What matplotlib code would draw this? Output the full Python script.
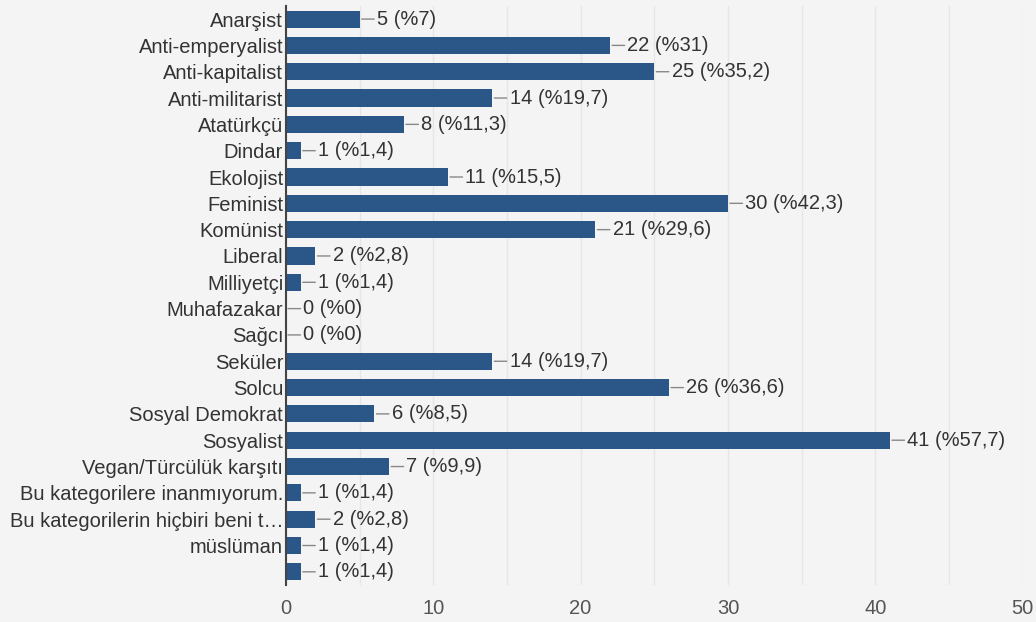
import matplotlib
matplotlib.use("Agg")
import matplotlib.pyplot as plt
from matplotlib.ticker import MultipleLocator

categories = ["Anarşist", "Anti-emperyalist", "Anti-kapitalist", "Anti-militarist",
              "Atatürkçü", "Dindar", "Ekolojist", "Feminist", "Komünist", "Liberal",
              "Milliyetçi", "Muhafazakar", "Sağcı", "Seküler", "Solcu",
              "Sosyal Demokrat", "Sosyalist", "Vegan/Türcülük karşıtı",
              "Bu kategorilere inanmıyorum.", "Bu kategorilerin hiçbiri beni t…",
              "müslüman", ""]
counts = [5, 22, 25, 14, 8, 1, 11, 30, 21, 2, 1, 0, 0, 14, 26, 6, 41, 7, 1, 2, 1, 1]
percents = ["7", "31", "35,2", "19,7", "11,3", "1,4", "15,5", "42,3", "29,6", "2,8",
            "1,4", "0", "0", "19,7", "36,6", "8,5", "57,7", "9,9", "1,4", "2,8", "1,4", "1,4"]
x_ticks = [0, 10, 20, 30, 40, 50]

plt.rcParams['font.family'] = ['Liberation Sans', 'DejaVu Sans']
bg = "#f4f4f4"
bar_color = "#2a5688"
fs = 14.5

fig = plt.figure(figsize=(10.36, 6.22), dpi=100, facecolor=bg)
ax = fig.add_axes([0.276, 0.0595, 0.711, 0.931], facecolor=bg)

y = list(range(len(categories)))
ax.barh(y, counts, height=0.65, color=bar_color, zorder=3)
for yi, c, p in zip(y, counts, percents):
    ax.annotate(f"{c} (%{p})", xy=(c, yi), xytext=(12.5, 0), textcoords="offset points",
                ha="left", va="center", fontsize=fs, color="#333333",
                arrowprops=dict(arrowstyle="-", color="#888888", lw=1, shrinkA=0, shrinkB=1.5),
                zorder=4)

ax.set_ylim(len(categories) - 0.5, -0.5)
ax.set_xlim(0, 50)
ax.set_yticks(y)
ax.set_yticklabels(categories, fontsize=fs, color="#333333")
ax.set_xticks(x_ticks)
ax.set_xticklabels([str(t) for t in x_ticks], fontsize=fs, color="#555555")
ax.xaxis.set_minor_locator(MultipleLocator(5))
ax.grid(axis="x", which="both", color="#e6e6e6", lw=1, zorder=0)
ax.tick_params(axis="both", which="both", length=0)
ax.tick_params(axis="x", pad=10)
ax.tick_params(axis="y", pad=2)
for s in ["top", "right", "bottom"]:
    ax.spines[s].set_visible(False)
ax.spines["left"].set_color("#444444")
ax.spines["left"].set_linewidth(1.5)
ax.spines["left"].set_zorder(5)

fig.savefig("out.png", dpi=100, facecolor=bg)
